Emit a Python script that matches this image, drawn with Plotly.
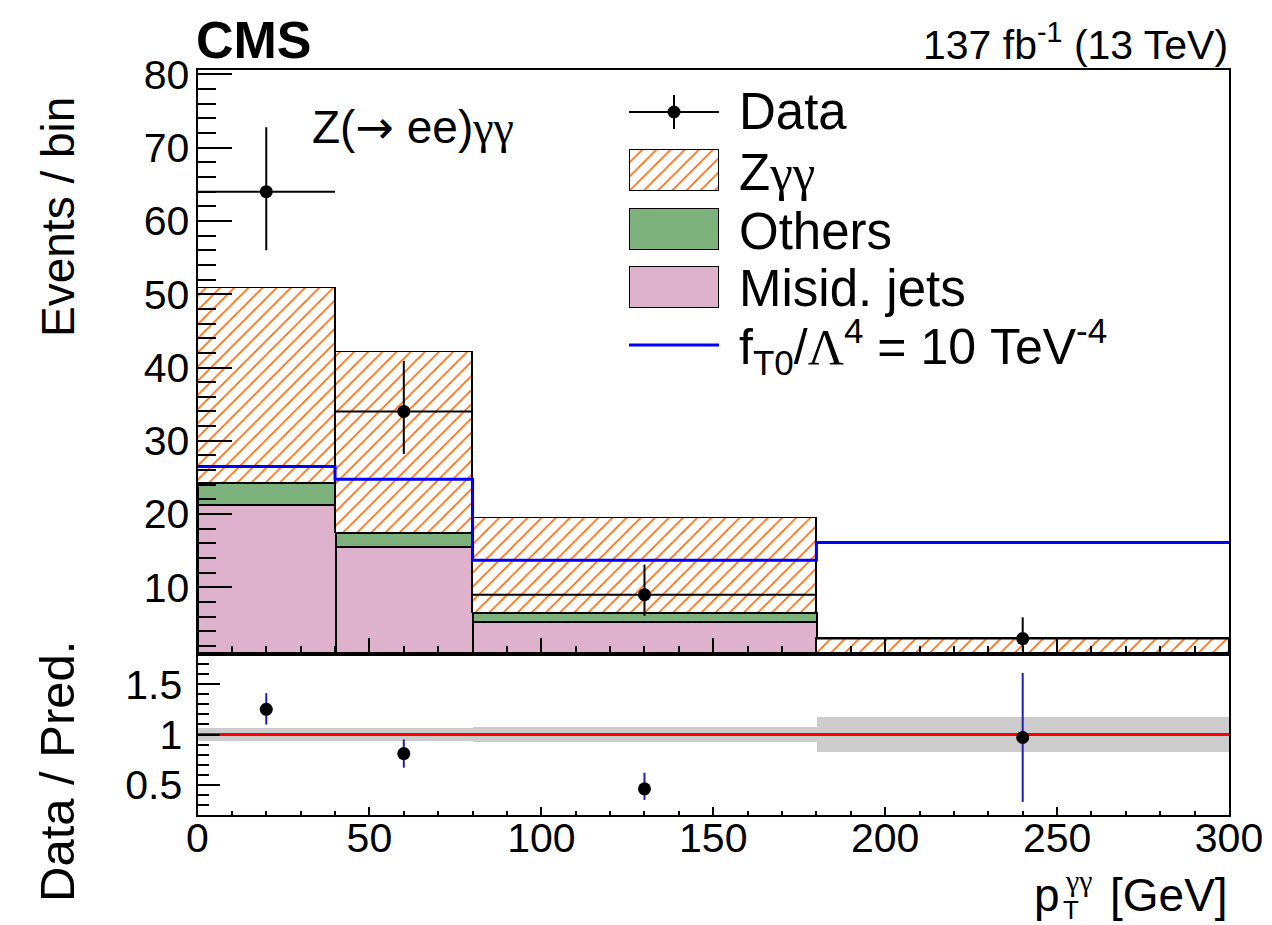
import plotly.graph_objects as go

# ---- binned content (pT of the diphoton system, GeV) ----
bin_edges = [0, 40, 80, 180, 300]
misid_jets = [21.2, 15.5, 5.3, 0.5]
others = [3.0, 1.9, 1.15, 0.3]
zgg = [26.6, 24.65, 13.05, 2.25]
aqgc_ft0 = [26.5, 24.75, 13.7, 16.1]

data = [64, 34, 9, 3]
data_err_up = [8.8, 6.9, 4.1, 2.9]
data_err_dn = [8.0, 5.8, 2.9, 1.6]

ratio = [1.25, 0.81, 0.46, 0.97]
ratio_err_up = [0.16, 0.14, 0.16, 0.64]
ratio_err_dn = [0.15, 0.14, 0.11, 0.64]
pred_unc = [0.06, 0.06, 0.075, 0.17]

centers = [(a + b) / 2 for a, b in zip(bin_edges[:-1], bin_edges[1:])]
widths = [b - a for a, b in zip(bin_edges[:-1], bin_edges[1:])]
half_widths = [w / 2 for w in widths]

W, H = 1272, 925
FONT = "Liberation Sans"
SERIF = "Liberation Serif"
PINK = "#deb1cd"
GREEN = "#7db27d"
ORANGE = "#ff6600"
RATIO_BLUE = "#1f1fb0"
HATCH = dict(shape="/", fgcolor=ORANGE, bgcolor="white", size=10, solidity=0.16, fgopacity=1)


def px(x):
    return x / W


def py(y):
    return 1 - y / H


fig = go.Figure()

# ---- stacked backgrounds ----
fig.add_trace(go.Bar(x=centers, y=misid_jets, width=widths, xaxis="x", yaxis="y",
                     marker=dict(color=PINK, line=dict(color="black", width=2))))
fig.add_trace(go.Bar(x=centers, y=others, width=widths, xaxis="x", yaxis="y",
                     marker=dict(color=GREEN, line=dict(color="black", width=2))))
fig.add_trace(go.Bar(x=centers, y=zgg, width=widths, xaxis="x", yaxis="y",
                     marker=dict(color="white", line=dict(color="black", width=1.5),
                                 pattern=HATCH)))

# ---- aQGC signal hypothesis as a step line ----
fig.add_trace(go.Scatter(x=bin_edges, y=aqgc_ft0 + [aqgc_ft0[-1]], mode="lines",
                         line=dict(color="#0000ff", width=3, shape="hv"),
                         xaxis="x", yaxis="y"))

# ---- observed data ----
fig.add_trace(go.Scatter(x=centers, y=data, mode="markers", xaxis="x", yaxis="y",
                         marker=dict(color="black", size=13),
                         error_x=dict(type="data", array=half_widths, width=0,
                                      thickness=2, color="black"),
                         error_y=dict(type="data", array=data_err_up, arrayminus=data_err_dn,
                                      width=0, thickness=2, color="black")))

# ---- ratio panel ----
fig.add_trace(go.Bar(x=centers, y=[2 * u for u in pred_unc], base=[1 - u for u in pred_unc],
                     width=widths, xaxis="x2", yaxis="y2",
                     marker=dict(color="#cccccc", line=dict(width=0))))
fig.add_trace(go.Scatter(x=[bin_edges[0], bin_edges[-1]], y=[1, 1], mode="lines",
                         line=dict(color="#ff0000", width=3), xaxis="x2", yaxis="y2"))
fig.add_trace(go.Scatter(x=centers, y=ratio, mode="markers", xaxis="x2", yaxis="y2",
                         marker=dict(color="black", size=13),
                         error_y=dict(type="data", array=ratio_err_up, arrayminus=ratio_err_dn,
                                      width=0, thickness=2, color=RATIO_BLUE)))

# ---- legend drawn on a full-canvas helper axis (pixel units) ----
box_x, box_w, box_h = 674, 89, 41
fig.add_trace(go.Scatter(x=[box_x], y=[112], mode="markers", xaxis="x3", yaxis="y3",
                         marker=dict(color="black", size=13),
                         error_x=dict(type="constant", value=45, width=0, thickness=2, color="black"),
                         error_y=dict(type="constant", value=17, width=0, thickness=2, color="black")))
fig.add_trace(go.Bar(x=[box_x], y=[box_h], base=[150], width=[box_w], xaxis="x3", yaxis="y3",
                     marker=dict(color="white", line=dict(color="black", width=1.5),
                                 pattern=HATCH)))
fig.add_trace(go.Bar(x=[box_x], y=[box_h], base=[209], width=[box_w], xaxis="x3", yaxis="y3",
                     marker=dict(color=GREEN, line=dict(color="black", width=1.5))))
fig.add_trace(go.Bar(x=[box_x], y=[box_h], base=[267], width=[box_w], xaxis="x3", yaxis="y3",
                     marker=dict(color=PINK, line=dict(color="black", width=1.5))))
fig.add_trace(go.Scatter(x=[629, 719], y=[345, 345], mode="lines", xaxis="x3", yaxis="y3",
                         line=dict(color="#0000ff", width=3)))

TICKFONT = dict(family=FONT, size=41, color="black")
common = dict(showgrid=False, zeroline=False, showline=True, linecolor="black",
              linewidth=2, mirror=True, ticks="inside", tickcolor="black", tickwidth=2,
              tickfont=TICKFONT, automargin=False)

xdom = [px(197.5), px(1229)]
fig.update_layout(
    width=W, height=H, autosize=False,
    margin=dict(l=0, r=0, t=0, b=0, pad=0, autoexpand=False),
    paper_bgcolor="white", plot_bgcolor="rgba(0,0,0,0)",
    barmode="stack", bargap=0, showlegend=False,
    font=dict(family=FONT, color="black"),
    xaxis=dict(domain=xdom, range=[0, 300], anchor="y", dtick=50, tick0=0,
               ticklen=16, showticklabels=False,
               minor=dict(dtick=10, ticklen=8, ticks="inside", tickwidth=2, tickcolor="black"),
               **common),
    yaxis=dict(domain=[py(654), py(70)], range=[0.9, 80.6], anchor="x", dtick=10, tick0=0,
               ticklen=34, ticklabelstandoff=-2,
               minor=dict(dtick=2, ticklen=18, ticks="inside", tickwidth=2, tickcolor="black"),
               **common),
    xaxis2=dict(domain=xdom, range=[0, 300], anchor="y2", dtick=50, tick0=0,
                ticklen=8, ticklabelstandoff=-14,
                minor=dict(dtick=10, ticklen=4, ticks="inside", tickwidth=2, tickcolor="black"),
                **common),
    yaxis2=dict(domain=[py(815), py(654)], range=[0.2, 1.8], anchor="x2", dtick=0.5, tick0=0,
                ticklen=22, ticklabelstandoff=5,
                minor=dict(dtick=0.1, ticklen=11, ticks="inside", tickwidth=2, tickcolor="black"),
                **common),
    xaxis3=dict(domain=[0, 1], range=[0, W], anchor="y3", visible=False, fixedrange=True,
                automargin=False),
    yaxis3=dict(domain=[0, 1], range=[H, 0], anchor="x3", visible=False, fixedrange=True,
                automargin=False),
)


def label(text, x, y, size, xanchor="left", yanchor="middle", angle=0, bold=False, family=FONT):
    fig.add_annotation(text=f"<b>{text}</b>" if bold else text, x=px(x), y=py(y),
                       xref="paper", yref="paper", xanchor=xanchor, yanchor=yanchor,
                       textangle=angle, showarrow=False,
                       font=dict(family=family, size=size, color="black"))


def gam(s):
    return f"<span style='font-family:{SERIF}'>{s}</span>"


ARROW = "<span style='font-family:DejaVu Sans'>→</span>"

label("CMS", 194, 40, 52, bold=True)
label("137 fb<sup>-1</sup> (13 TeV)", 1230, 42, 41, xanchor="right")
label("Z(" + ARROW + " ee)" + gam("γγ"), 310, 127, 46)

label("Data", 737, 112, 51)
label("Z" + gam("γγ"), 737, 172, 51)
label("Others", 737, 231, 51)
label("Misid. jets", 737, 289, 51)
label("f<sub>T0</sub>/" + gam("Λ") + "<sup>4</sup> = 10 TeV<sup>-4</sup>", 737, 347, 50)

label("Events / bin", 58, 217, 46, xanchor="center", angle=-90)
label("Data / Pred.", 57, 772, 49, xanchor="center", angle=-90)

label("p", 1032, 895, 46)
label("T", 1061, 910, 26)
label(gam("γγ"), 1063, 880, 30)
label("[GeV]", 1230, 895, 46, xanchor="right")

fig.write_html("out.html")
